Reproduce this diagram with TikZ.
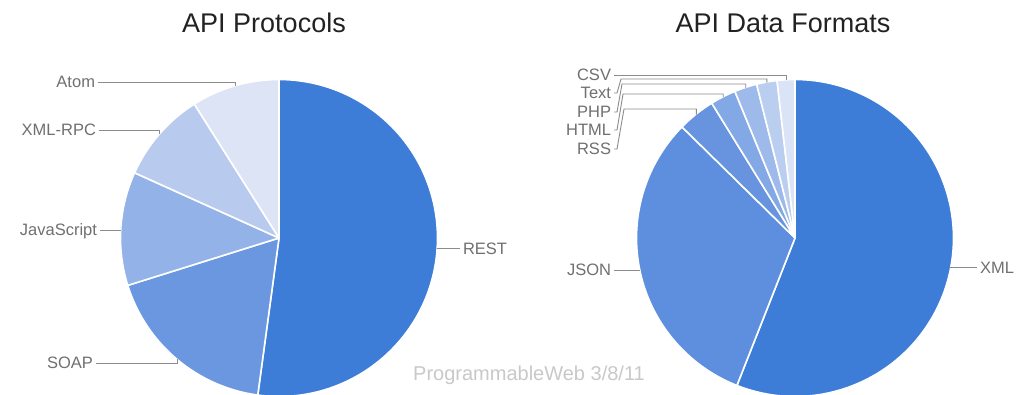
\documentclass[tikz,border=0pt]{standalone}
\usepackage{fontspec}
\setmainfont{Liberation Sans}
\usetikzlibrary{calc}

% slice colours
\definecolor{blueA}{HTML}{3D7DD8}
\definecolor{blueB}{HTML}{6A97DF}
\definecolor{blueC}{HTML}{93B2E8}
\definecolor{blueD}{HTML}{B8CBEF}
\definecolor{blueE}{HTML}{DCE4F6}
\definecolor{jsonblue}{HTML}{5D8FDE}
\definecolor{rssblue}{HTML}{6894DF}
\definecolor{htmlblue}{HTML}{82A8E5}
\definecolor{phpblue}{HTML}{9DBAEA}
\definecolor{textblue}{HTML}{BACEF0}
\definecolor{csvblue}{HTML}{DAE4F6}
\definecolor{labgray}{HTML}{707070}
\definecolor{leadgray}{HTML}{8C8C8C}
\definecolor{titlegray}{HTML}{222222}
\definecolor{wmgray}{HTML}{C9C9C9}

\newcommand{\pieslice}[5]{% centre, start angle, end angle, radius, colour
  \filldraw[fill=#5, draw=white, line width=1.6pt, line join=round]
    (#1) -- ($(#1)+(#2:#4)$) arc[start angle=#2, end angle=#3, radius=#4] -- cycle;}

\tikzset{
  charttitle/.style={font=\fontsize{27}{27}\selectfont, text=titlegray, anchor=base, inner sep=0pt},
  slicelabel/.style={font=\fontsize{16.5}{16.5}\selectfont, text=labgray, inner sep=0pt,
                     outer sep=3pt, text height=11.8pt, text depth=0pt},
  leader/.style={draw=leadgray, line width=0.9pt},
  watermark/.style={font=\fontsize{20}{20}\selectfont, text=wmgray, anchor=base west, inner sep=0pt}
}

\begin{document}
\begin{tikzpicture}[x=1pt, y=1pt]
  \clip (0,0) rectangle (1022,-394);
  \fill[white] (0,0) rectangle (1022,-394);

  % ---------- API Protocols ----------
  \coordinate (c1) at (279,-238);
  \def\R{158.5}
  \pieslice{c1}{-97.7}{90}{\R}{blueA}
  \pieslice{c1}{197.4}{262.3}{\R}{blueB}
  \pieslice{c1}{155.7}{197.4}{\R}{blueC}
  \pieslice{c1}{122.3}{155.7}{\R}{blueD}
  \pieslice{c1}{90}{122.3}{\R}{blueE}

  \node[charttitle] (tL) at (264,-32) {API Protocols};

  \node[slicelabel, anchor=east] (lAtom)   at (98,-82)  {Atom};
  \node[slicelabel, anchor=east] (lXmlRpc) at (99,-130) {XML-RPC};
  \node[slicelabel, anchor=east] (lJs)     at (100,-230) {JavaScript};
  \node[slicelabel, anchor=east] (lSoap)   at (96,-363) {SOAP};
  \node[slicelabel, anchor=west] (lRest)   at (460,-249) {REST};

  \coordinate (eAtom)   at ($(c1)+(106.1:158)$);
  \coordinate (eXmlRpc) at ($(c1)+(139:158)$);
  \coordinate (eJs)     at ($(c1)+(176.8:158)$);
  \coordinate (eSoap)   at ($(c1)+(229.85:158)$);
  \coordinate (eRest)   at ($(c1)+(-3.85:158)$);

  \draw[leader] (lAtom.east) -| (eAtom);
  \draw[leader] (lXmlRpc.east) -| (eXmlRpc);
  \draw[leader] (lJs.east) -- (lJs.east -| eJs);
  \draw[leader] (lSoap.east) -| (eSoap);
  \draw[leader] (eRest) -- (eRest -| lRest.west);

  % ---------- API Data Formats ----------
  \coordinate (c2) at (795,-238);
  \pieslice{c2}{-111.5}{90}{\R}{blueA}
  \pieslice{c2}{135.5}{248.5}{\R}{jsonblue}
  \pieslice{c2}{121.7}{135.5}{\R}{rssblue}
  \pieslice{c2}{112.3}{121.7}{\R}{htmlblue}
  \pieslice{c2}{104}{112.3}{\R}{phpblue}
  \pieslice{c2}{96.5}{104}{\R}{textblue}
  \pieslice{c2}{90}{96.5}{\R}{csvblue}

  \node[charttitle] (tR) at (783,-32) {API Data Formats};

  \node[slicelabel, anchor=east] (lCsv)  at (614,-75)  {CSV};
  \node[slicelabel, anchor=east] (lText) at (614,-93)  {Text};
  \node[slicelabel, anchor=east] (lPhp)  at (614,-112) {PHP};
  \node[slicelabel, anchor=east] (lHtml) at (614,-130) {HTML};
  \node[slicelabel, anchor=east] (lRss)  at (614,-149) {RSS};
  \node[slicelabel, anchor=east] (lJson) at (614,-270) {JSON};
  \node[slicelabel, anchor=west] (lXml)  at (977,-268) {XML};

  \coordinate (eCsv)  at ($(c2)+(93.25:158)$);
  \coordinate (eText) at ($(c2)+(100.25:158)$);
  \coordinate (ePhp)  at ($(c2)+(108.15:158)$);
  \coordinate (eHtml) at ($(c2)+(117:158)$);
  \coordinate (eRss)  at ($(c2)+(128.6:158)$);
  \coordinate (eJson) at ($(c2)+(192:158)$);
  \coordinate (eXml)  at ($(c2)+(-10.75:158)$);

  % bends of the stacked leader lines
  \coordinate (bText) at (621,-79);
  \coordinate (bPhp)  at (622,-84);
  \coordinate (bHtml) at (623,-94);
  \coordinate (bRss)  at (624,-109);

  \draw[leader] (lCsv.east) -| (eCsv);
  \draw[leader] (lText.east) -- ++(3,0) -- (bText) -| (eText);
  \draw[leader] (lPhp.east) -- ++(3,0) -- (bPhp) -| (ePhp);
  \draw[leader] (lHtml.east) -- ++(3,0) -- (bHtml) -| (eHtml);
  \draw[leader] (lRss.east) -- ++(3,0) -- (bRss) -| (eRss);
  \draw[leader] (lJson.east) -- (lJson.east -| eJson);
  \draw[leader] (eXml) -- (eXml -| lXml.west);

  % source note
  \node[watermark] (wm) at (413,-380) {ProgrammableWeb 3/8/11};
\end{tikzpicture}
\end{document}
